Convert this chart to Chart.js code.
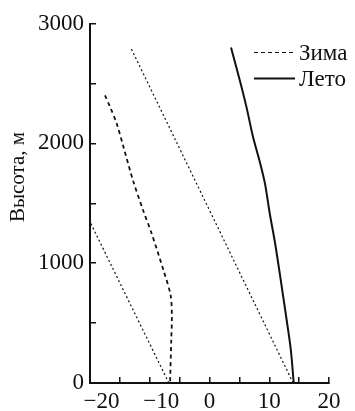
<!DOCTYPE html>
<html>
<head>
<meta charset="utf-8">
<script src="https://cdn.jsdelivr.net/npm/chart.js@4"></script>
<style>
  html, body { margin: 0; padding: 0; background: #fff; }
  #wrap { width: 355px; height: 411px; }
</style>
</head>
<body>
<div id="wrap"><canvas id="chart"></canvas></div>
<script>
// Зима (winter profile), temperature vs height
const winterT = [-17.5, -16.6, -15.5, -14.4, -12.8, -11.1, -9.7, -7.7, -6.5, -6.3, -6.4, -6.6];
const winterH = [2400, 2300, 2160, 1970, 1690, 1440, 1250, 940, 730, 550, 360, 0];

// Лето (summer profile)
const summerT = [3.6, 5.1, 6.2, 7.3, 8.5, 9.3, 10.1, 11.0, 12.1, 12.9, 13.6, 14.1];
const summerH = [2800, 2520, 2300, 2050, 1830, 1660, 1410, 1160, 800, 530, 280, 0];

// dry adiabats (thin dotted, no legend)
const adiabat1T = [14, -13.2];
const adiabat1H = [0, 2800];
const adiabat2T = [-6.8, -20];
const adiabat2H = [0, 1345];

const xTicksMin = -20, xTicksMax = 20;
const yTicksMin = 0, yTicksMax = 3000;

const toPoints = (xs, ys) => xs.map((x, i) => ({ x: x, y: ys[i] }));
const ink = '#111';
const serif = 'Liberation Serif';

// draws the legend inside the plot, top right
const innerLegend = {
  id: 'innerLegend',
  afterDraw(chart) {
    const ctx = chart.ctx;
    const area = chart.chartArea;
    let y = area.top + 29;
    ctx.save();
    chart.data.datasets.forEach((ds) => {
      if (!ds.label) return;
      const x0 = area.right - 75;
      ctx.strokeStyle = ds.borderColor;
      ctx.lineWidth = ds.legendWidth || ds.borderWidth;
      ctx.setLineDash(ds.legendDash || ds.borderDash || []);
      ctx.beginPath();
      ctx.moveTo(x0, y);
      ctx.lineTo(x0 + 41, y);
      ctx.stroke();
      ctx.setLineDash([]);
      ctx.fillStyle = ink;
      ctx.font = '23px ' + serif;
      ctx.textBaseline = 'middle';
      ctx.textAlign = 'left';
      ctx.fillText(ds.label, x0 + 45, y + 1);
      y += 26;
    });
    ctx.restore();
  }
};

const fmt = (v) => (v < 0 ? '\u2212' + Math.abs(v) : String(v));

new Chart(document.getElementById('chart'), {
  type: 'line',
  data: {
    datasets: [
      {
        label: 'Зима',
        data: toPoints(winterT, winterH),
        borderColor: ink,
        borderWidth: 1.8,
        borderDash: [4, 3.5],
        legendDash: [4, 3],
        legendWidth: 1.2,
        pointRadius: 0,
        tension: 0.3
      },
      {
        label: 'Лето',
        data: toPoints(summerT, summerH),
        borderColor: ink,
        borderWidth: 2,
        pointRadius: 0,
        tension: 0.3
      },
      {
        data: toPoints(adiabat1T, adiabat1H),
        borderColor: ink,
        borderWidth: 1.2,
        borderDash: [2, 2.5],
        pointRadius: 0
      },
      {
        data: toPoints(adiabat2T, adiabat2H),
        borderColor: ink,
        borderWidth: 1.2,
        borderDash: [2, 2.5],
        pointRadius: 0
      }
    ]
  },
  options: {
    responsive: true,
    maintainAspectRatio: false,
    animation: false,
    layout: { padding: { left: 7.5, top: 22, right: 26, bottom: 0 } },
    plugins: {
      legend: { display: false },
      tooltip: { enabled: false }
    },
    scales: {
      x: {
        type: 'linear',
        min: xTicksMin,
        max: xTicksMax,
        afterFit: (scale) => { scale.height = 28; },
        border: { color: ink, width: 2 },
        grid: { drawOnChartArea: false, color: ink, lineWidth: 1.5, tickLength: -6 },
        ticks: {
          stepSize: 5,
          autoSkip: false,
          maxRotation: 0,
          padding: 13,
          color: ink,
          font: { family: serif, size: 23, lineHeight: 1 },
          callback: (v) => {
            if (v % 10 !== 0) return '';
            // shift negative labels right a little, as in the original
            return v < 0 ? '\u2003' + fmt(v) : fmt(v);
          }
        }
      },
      y: {
        type: 'linear',
        min: yTicksMin,
        max: yTicksMax,
        afterFit: (scale) => { scale.width = 82.5; },
        border: { color: ink, width: 2 },
        grid: { drawOnChartArea: false, color: ink, lineWidth: 1.5, tickLength: -6 },
        ticks: {
          stepSize: 500,
          autoSkip: false,
          padding: 12,
          color: ink,
          font: { family: serif, size: 23, lineHeight: 1 },
          callback: (v) => (v % 1000 === 0 ? String(v) : '')
        },
        title: {
          display: true,
          text: '          Высота, м',
          color: ink,
          padding: { top: 0, bottom: 9.5 },
          font: { family: serif, size: 21, lineHeight: 1 }
        }
      }
    }
  },
  plugins: [innerLegend]
});
</script>
</body>
</html>
